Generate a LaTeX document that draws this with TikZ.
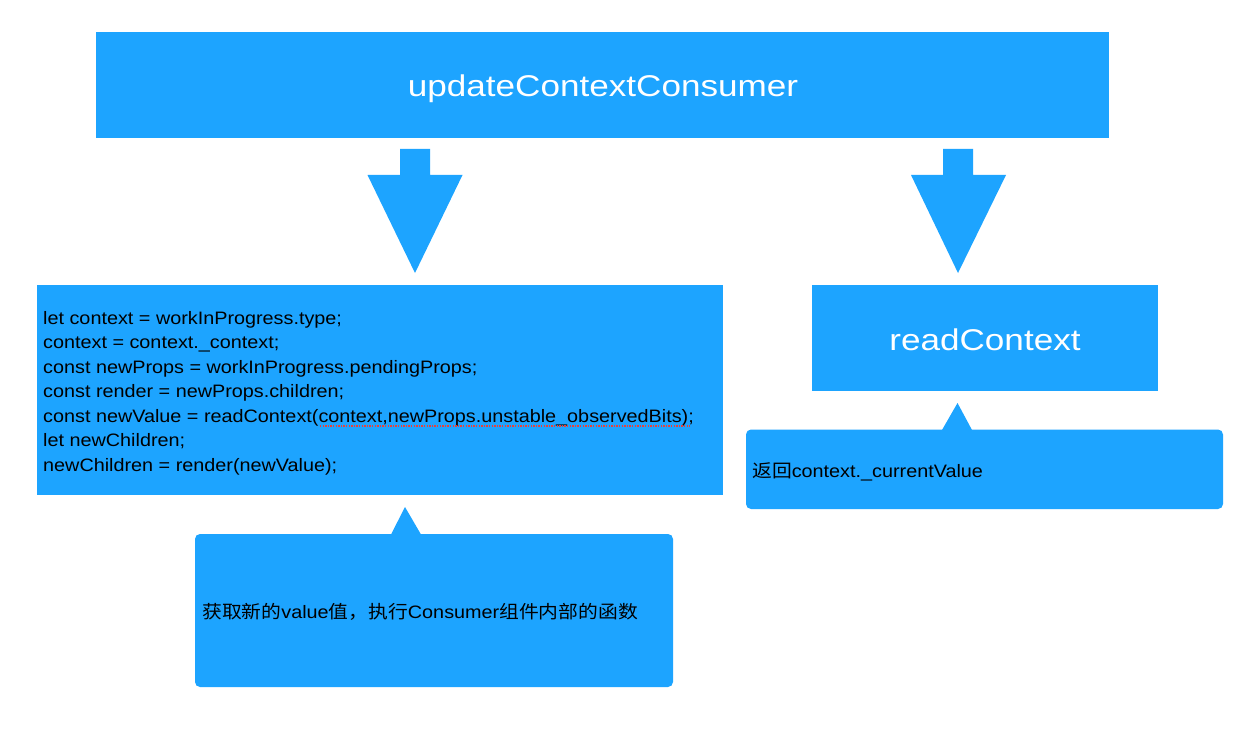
\documentclass[tikz,border=0pt]{standalone}
\usepackage{fontspec}
\setmainfont{Liberation Sans}
\newfontfamily\titlefont{Liberation Sans}[FakeStretch=1.17]
\newfontfamily\codefont{Liberation Sans}[FakeStretch=1.1]
\newfontfamily\cjk{Noto Sans CJK SC}[FakeStretch=1.1]
\definecolor{cblue}{HTML}{1DA4FF}
\definecolor{spellred}{HTML}{E8413A}
\begin{document}
\begin{tikzpicture}[x=1pt,y=-1pt,
  box/.style={fill=cblue, draw=none, inner sep=0pt, anchor=north west},
  bigtext/.style={text=white, inner sep=0pt, anchor=base, font=\titlefont\fontsize{30}{36}\selectfont},
  codetext/.style={text=black, inner sep=0pt, anchor=base west, font=\codefont\fontsize{18}{24.5}\selectfont},
  blockarrow/.style={fill=cblue, draw=none},
  callout/.style={fill=cblue, draw=none, rounded corners=5pt}]
\useasboundingbox (0,0) rectangle (1260,738);
\fill[white] (0,0) rectangle (1260,738);

% main boxes
\node[box, minimum width=1013pt, minimum height=106pt] (top) at (96,32) {};
\node[bigtext] (toptext) at (603,97) {updateContextConsumer};

\node[box, minimum width=686pt, minimum height=210pt] (code) at (37,285) {};
\node[box, minimum width=346pt, minimum height=106pt] (read) at (812,285) {};
\node[bigtext] (readtext) at (985,350) {readContext};

% block arrows
\coordinate (a1) at (415,273);
\fill[blockarrow] (400,149) -- (430,149) -- (430,175) -- (462.5,175) -- (a1) -- (367.5,175) -- (400,175) -- cycle;
\coordinate (a2) at (958,273);
\fill[blockarrow] (943,149) -- (973,149) -- (973,175) -- (1006,175) -- (a2) -- (911,175) -- (943,175) -- cycle;

% code lines
\foreach \t [count=\i] in {
  {let context = workInProgress.type;},
  {context = context.\_context;},
  {const newProps = workInProgress.pendingProps;},
  {const render = newProps.children;},
  {const newValue = readContext(context,newProps.unstable\_observedBits);},
  {let newChildren;},
  {newChildren = render(newValue);}}
  \node[codetext] (line\i) at (43,{324+24.5*(\i-1)}) {\t};

% spell-check underline
\coordinate (u1) at (320,426);
\coordinate (u2) at (690,426);
\draw[spellred, line width=1.3pt, dash pattern=on 1.3pt off 1.3pt] (u1) -- (u2);

% callout under readContext
\fill[callout] (746,429.5) rectangle (1223,509);
\fill[blockarrow] (942,430) -- (957.5,403) -- (972,430) -- cycle;
\node[codetext] (note2) at (752,477) {{\cjk 返回}context.\_currentValue};

% callout under code
\fill[callout] (195,534) rectangle (673,687);
\fill[blockarrow] (391,534.5) -- (405,507) -- (421,534.5) -- cycle;
\node[codetext] (note1) at (202,618) {{\cjk 获取新的}value{\cjk 值，执行}Consumer{\cjk 组件内部的函数}};
\end{tikzpicture}
\end{document}
